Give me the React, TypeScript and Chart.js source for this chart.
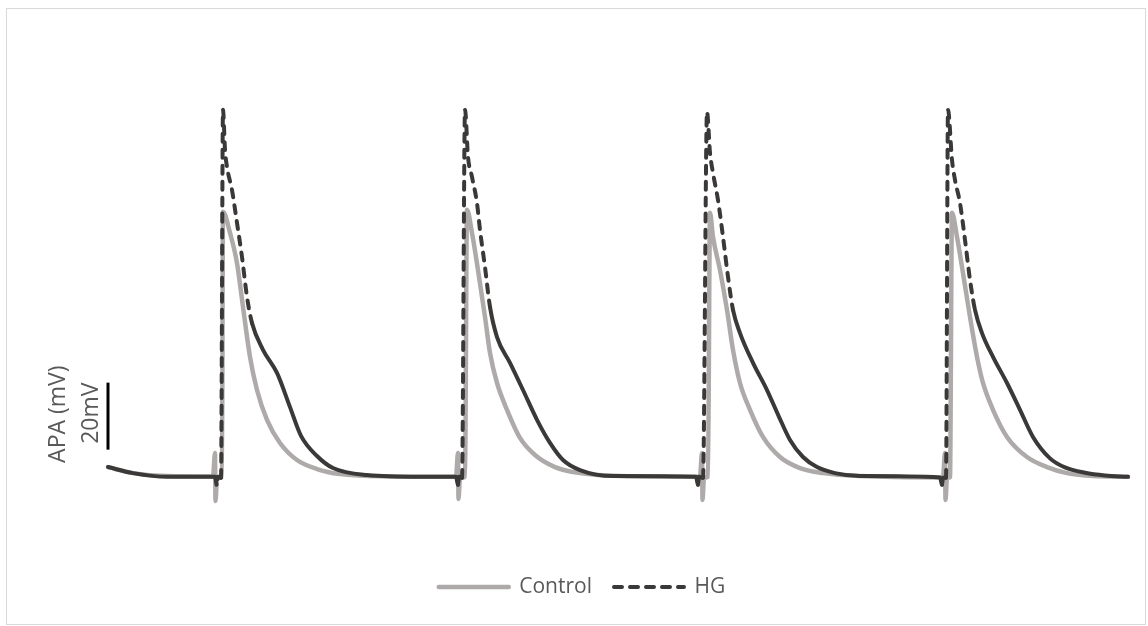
import React, { useEffect, useRef } from "react";
import { Chart, registerables } from "chart.js";

Chart.register(...registerables);

// Time (ms) and membrane potential (mV)
const controlTimeMs = [
  0, 25, 59, 105, 107, 107.5, 109, 114, 115, 122, 129, 135, 142, 149, 159, 172, 189, 209, 232, 282, 348,
  350, 350.5, 352, 357, 359, 364, 370, 377, 382, 389, 399, 412, 427, 447, 472, 512, 592,
  594, 594.5, 596, 600, 602, 605, 612, 619, 625, 632, 642, 655, 672, 692, 715, 752, 835,
  837, 837.5, 839, 842, 844, 849, 855, 862, 869, 875, 885, 899, 919, 939, 959, 985, 1020,
];
const controlMv = [
  -72.2, -74.0, -74.9, -75.0, -68.0, -82.3, -75.4, -75.1, 4.0, -2.3, -11.3, -24.4, -39.3, -49.2, -58.1, -65.0, -70.1, -72.8, -74.3, -75.0, -75.1,
  -68.0, -81.7, -75.4, -75.1, 4.6, -2.3, -13.4, -27.4, -38.1, -47.1, -55.1, -63.5, -68.6, -72.2, -74.0, -74.9, -75.1,
  -68.0, -82.0, -75.4, -75.1, 3.7, -3.5, -13.4, -25.3, -37.2, -47.1, -55.1, -63.2, -69.2, -72.5, -74.0, -74.9, -75.3,
  -68.0, -82.0, -75.4, -75.3, 3.7, -3.5, -14.3, -27.4, -39.3, -47.1, -55.1, -63.2, -69.2, -72.2, -74.0, -74.9, -75.1,
];

const hgTimeMs = [
  0, 25, 59, 107, 109, 110, 113, 115, 117, 119, 124, 129, 134, 139, 144, 155, 169, 182, 193, 209, 225, 259, 312, 348,
  350, 351, 354, 357, 360, 364, 369, 372, 377, 382, 389, 402, 415, 429, 442, 455, 472, 505, 588,
  590, 591, 595, 599, 602, 605, 610, 615, 620, 625, 632, 645, 659, 671, 682, 695, 709, 727, 752, 832,
  834, 835, 838, 840, 844, 847, 852, 857, 862, 867, 874, 885, 899, 912, 925, 942, 957, 977, 997, 1020,
];
const hgMv = [
  -72.2, -74.0, -75.1, -75.1, -77.8, -75.1, -75.4, 34.4, 22.5, 17.4, 10.5, 0.7, -9.5, -21.4, -29.2, -37.2, -44.1, -54.3, -62.9, -68.9, -72.5, -74.6, -75.1, -75.1,
  -77.5, -75.1, -75.4, 34.4, 20.4, 14.4, 6.6, -1.4, -12.5, -24.4, -33.4, -41.1, -49.2, -58.1, -65.0, -70.1, -73.1, -74.9, -75.1,
  -77.5, -75.1, -75.4, 33.8, 21.6, 15.6, 7.5, -3.5, -15.4, -25.3, -32.2, -41.1, -49.2, -57.2, -64.1, -69.2, -72.2, -74.0, -74.9, -75.3,
  -77.5, -75.4, -75.4, 34.4, 19.5, 13.5, 6.6, -4.4, -16.3, -25.3, -32.2, -39.3, -47.1, -55.1, -63.2, -69.6, -72.3, -73.9, -74.7, -75.1,
];

const seriesLabels = ["Control", "HG"];
const seriesColors = ["#aeaaaa", "#3b3838"];
const hgDash = [8, 8];

const scaleBarBaseMv = -67;
const scaleBarMv = 20;
const scaleBarLabel = "20mV";
const yAxisLabel = "APA (mV)";

const textColor = "#595959";
const fontFamily = "'Open Sans', 'Noto Sans', sans-serif";

const toPoints = (xs: number[], ys: number[]) => xs.map((x, i) => ({ x, y: ys[i] }));

const decorPlugin = {
  id: "decor",
  beforeDraw(chart: any) {
    const c = chart.ctx;
    c.save();
    c.fillStyle = "#ffffff";
    c.fillRect(0, 0, chart.width, chart.height);
    c.strokeStyle = "#d9d9d9";
    c.lineWidth = 1;
    c.strokeRect(6.5, 8.5, 1139, 616);
    c.restore();
  },
  afterDraw(chart: any) {
    const c = chart.ctx;
    const xs = chart.scales.x;
    const ys = chart.scales.y;
    const barX = xs.getPixelForValue(0);
    const yTop = ys.getPixelForValue(scaleBarBaseMv + scaleBarMv);
    const yBot = ys.getPixelForValue(scaleBarBaseMv);
    const mid = (yTop + yBot) / 2;
    c.save();
    c.strokeStyle = "#000000";
    c.lineWidth = 3;
    c.beginPath();
    c.moveTo(barX, yTop);
    c.lineTo(barX, yBot);
    c.stroke();

    c.fillStyle = textColor;
    c.font = `23px ${fontFamily}`;
    c.textAlign = "center";
    c.textBaseline = "alphabetic";

    c.save();
    c.translate(barX - 10, mid - 3);
    c.rotate(-Math.PI / 2);
    c.fillText(scaleBarLabel, 0, 0);
    c.restore();

    c.save();
    c.translate(barX - 43, mid - 2);
    c.rotate(-Math.PI / 2);
    c.fillText(yAxisLabel, 0, 0);
    c.restore();

    c.restore();
  },
};

export default function App() {
  const canvasRef = useRef<HTMLCanvasElement | null>(null);

  useEffect(() => {
    if (!canvasRef.current) return;
    const steep = (ctx: any) =>
      Math.abs(ctx.p1.y - ctx.p0.y) > 4.5 * Math.abs(ctx.p1.x - ctx.p0.x) ? hgDash : undefined;

    const chart = new Chart(canvasRef.current, {
      type: "line",
      data: {
        datasets: [
          {
            label: seriesLabels[0],
            data: toPoints(controlTimeMs, controlMv),
            borderColor: seriesColors[0],
            backgroundColor: seriesColors[0],
            borderWidth: 4.5,
            borderCapStyle: "round",
            borderJoinStyle: "round",
            pointRadius: 0,
            cubicInterpolationMode: "monotone",
            order: 1,
            clip: false,
          } as any,
          {
            label: seriesLabels[1],
            data: toPoints(hgTimeMs, hgMv),
            borderColor: seriesColors[1],
            backgroundColor: seriesColors[1],
            borderWidth: 4,
            borderCapStyle: "round",
            borderJoinStyle: "round",
            pointRadius: 0,
            cubicInterpolationMode: "monotone",
            segment: { borderDash: steep },
            order: 0,
            clip: false,
          } as any,
        ],
      },
      options: {
        responsive: false,
        animation: false,
        devicePixelRatio: 1,
        layout: { padding: { left: 20, right: 4, top: 91.2, bottom: 18.5 } },
        scales: {
          x: { type: "linear", display: false, min: -88, max: 1036 },
          y: { type: "linear", display: false, min: -98.3, max: 40 },
        },
        plugins: {
          tooltip: { enabled: false },
          legend: {
            display: true,
            position: "bottom",
            labels: {
              usePointStyle: true,
              pointStyleWidth: 70,
              padding: 22,
              color: textColor,
              font: { family: fontFamily, size: 21 },
              generateLabels: () =>
                seriesLabels.map((text, i) => ({
                  text,
                  strokeStyle: seriesColors[i],
                  fillStyle: seriesColors[i],
                  fontColor: textColor,
                  lineWidth: i === 0 ? 4.5 : 4,
                  lineCap: "round",
                  lineDash: i === 1 ? hgDash : [],
                  pointStyle: "line",
                  hidden: false,
                  datasetIndex: i,
                })),
            },
          },
        },
      } as any,
      plugins: [decorPlugin],
    });
    return () => chart.destroy();
  }, []);

  return (
    <div style={{ position: "fixed", left: 0, top: 0, width: 1148, height: 626, background: "#fff" }}>
      <canvas ref={canvasRef} width={1148} height={626} style={{ display: "block" }} />
    </div>
  );
}
